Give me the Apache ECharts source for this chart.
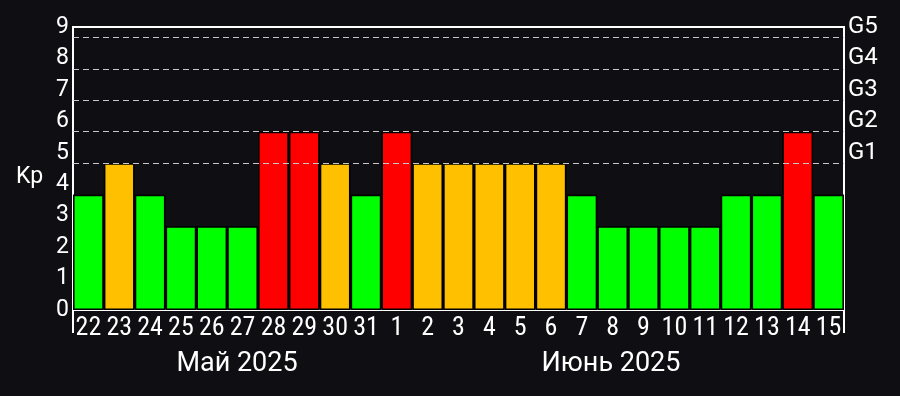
<!DOCTYPE html>
<html>
<head>
<meta charset="utf-8">
<script src="https://cdn.jsdelivr.net/npm/echarts@6/dist/echarts.min.js"></script>
<style>
html,body{margin:0;padding:0;background:#0f0f13;}
#c{width:900px;height:396px;}
</style>
</head>
<body>
<div id="c"></div>
<script>
// Days (categories)
const days = ['22','23','24','25','26','27','28','29','30','31','1','2','3','4','5','6','7','8','9','10','11','12','13','14','15'];
// Kp values per day
const kpValues = [3.67,4.67,3.67,2.67,2.67,2.67,5.67,5.67,4.67,3.67,5.67,4.67,4.67,4.67,4.67,4.67,3.67,2.67,2.67,2.67,2.67,3.67,3.67,5.67,3.67];
// Dashed threshold lines
const thresholds = [4.67,5.67,6.67,7.67,8.67];
// Right axis storm-level labels indexed by Kp integer
const gLabels = ['','','','','','G1','G2','G3','G4','G5'];
// Month labels
const months = ['Май 2025','Июнь 2025'];
const monthStartIndex = 10;

const FONT = 'Roboto';
const XFONT = '"Roboto Condensed", Roboto';
const chart = echarts.init(document.getElementById('c'), null, {renderer:'canvas'});

function barColor(v){
  if (v >= 5.5) return '#ff0000';
  if (v >= 4.5) return '#ffc000';
  return '#00ff00';
}

chart.setOption({
  backgroundColor:'#0f0f13',
  animation:false,
  grid:{left:73,right:56,top:27,bottom:86,show:true,borderColor:'#ffffff',borderWidth:2,backgroundColor:'transparent'},
  xAxis:{
    type:'category',data:days,
    axisLine:{show:true,lineStyle:{color:'#ffffff',width:2}},
    axisTick:{show:true,alignWithLabel:false,interval:function(i){return i===monthStartIndex;},length:23,lineStyle:{color:'#ffffff',width:2}},
    splitLine:{show:true,interval:function(i){return i===monthStartIndex;},lineStyle:{color:'#ffffff',width:2}},
    axisLabel:{color:'#ffffff',fontSize:26,fontFamily:XFONT,interval:0,margin:5}
  },
  yAxis:[{
    type:'value',min:0,max:9,interval:1,
    axisLine:{show:false},axisTick:{show:false},splitLine:{show:false},
    axisLabel:{color:'#ffffff',fontSize:23,fontFamily:FONT,margin:4,padding:[0,0,3,0]}
  },{
    type:'value',min:0,max:9,interval:1,position:'right',
    axisLine:{show:false},axisTick:{show:false},splitLine:{show:false},
    axisLabel:{color:'#ffffff',fontSize:24,fontFamily:FONT,margin:4,padding:[0,0,3,0],
      formatter:function(v){return gLabels[v]||'';}}
  }],
  series:[{
    type:'bar',
    data:kpValues,
    barCategoryGap:'0%',
    itemStyle:{color:function(p){return barColor(p.value);},borderColor:'#000000',borderWidth:1.6},
    markLine:{
      silent:true,symbol:['none','none'],label:{show:false},
      lineStyle:{color:'#c8c8c8',type:[6,4],width:1.2},
      data:thresholds.map(function(t){return {yAxis:t};})
    }
  }],
  graphic:[
    {type:'text',left:16,top:166,style:{text:'Kp',fill:'#ffffff',font:'23px '+FONT}},
    {type:'text',x:237,y:364,style:{text:months[0],fill:'#ffffff',font:'27px '+FONT,align:'center',verticalAlign:'middle'}},
    {type:'text',x:611,y:364,style:{text:months[1],fill:'#ffffff',font:'27px '+FONT,align:'center',verticalAlign:'middle'}}
  ]
});
</script>
</body>
</html>
